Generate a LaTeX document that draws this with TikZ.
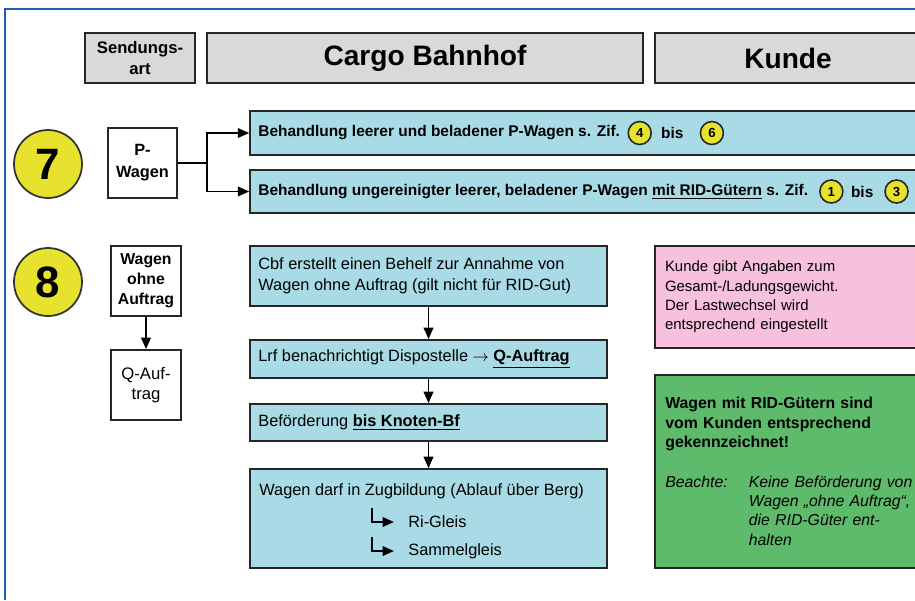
\documentclass[tikz,border=0pt]{standalone}
\usepackage{fontspec}
\setmainfont{Liberation Sans}
\usetikzlibrary{arrows.meta,positioning,calc}

\definecolor{hdrgray}{HTML}{D9D9D9}
\definecolor{cyanbox}{HTML}{A8DBE6}
\definecolor{pinkbox}{HTML}{F7C0DC}
\definecolor{greenbox}{HTML}{5DBB6B}
\definecolor{ziffgelb}{HTML}{E6E22E}
\definecolor{rahmenblau}{HTML}{1A5FB4}

\tikzset{
  box/.style={draw=black!85, line width=1pt, inner sep=0pt},
  hdr/.style={box, fill=hdrgray, font=\bfseries\fontsize{16}{18}\selectfont},
  artbox/.style={box, fill=white, align=center, minimum width=1.4cm, minimum height=1.4cm},
  bluebox/.style={box, fill=cyanbox},
  notebox/.style={box, inner xsep=0.2cm, text width=4.92cm, align=left, minimum width=5.32cm},
  bignum/.style={circle, draw=black!80, line width=1pt, fill=ziffgelb, minimum size=1.36cm,
    inner sep=0pt, font=\bfseries\fontsize{25}{25}\selectfont},
  zif/.style={circle, draw=black!85, line width=0.9pt, fill=ziffgelb, minimum size=0.46cm,
    inner sep=0pt, font=\bfseries\fontsize{7.5}{8}\selectfont},
  txt/.style={anchor=west, inner sep=0pt, font=\fontsize{9.3}{12}\selectfont},
  btxt/.style={anchor=west, inner sep=0pt, font=\bfseries\fontsize{8.8}{10}\selectfont},
  line/.style={line width=0.9pt},
  arr/.style={line, -{Triangle[length=6.5pt,width=5.5pt]}},
}

\begin{document}
\begin{tikzpicture}[x=0.02cm, y=-0.02cm]
  \useasboundingbox (0,0) rectangle (915,600);
  \clip (0,0) rectangle (915,600);
  \draw[rahmenblau, line width=1pt] (5,600) -- (5,9) -- (915,9);

  % Kopfzeile
  \node[hdr, minimum width=2.2cm, minimum height=1.0cm, align=center,
    font=\bfseries\fontsize{9.5}{11.5}\selectfont] (sa) at (140,58) {Sendungs-\\art};
  \node[hdr, minimum width=8.72cm, minimum height=1.0cm] (cb) at (425,58) {Cargo Bahnhof};
  \node[hdr, minimum width=5.32cm, minimum height=1.0cm] (ku) at (788,58) {Kunde};

  % Ziffer 7
  \node[bignum] (c7) at (48,164) {7};
  \node[artbox, minimum width=1.38cm, minimum height=1.4cm,
    font=\bfseries\fontsize{9.3}{12.5}\selectfont] (pw) at (142.5,163) {P-\\Wagen};
  \node[bluebox, minimum width=13.42cm, minimum height=0.88cm] (bx1) at (585.5,133) {};
  \node[bluebox, minimum width=13.42cm, minimum height=0.86cm] (bx2) at (585.5,191.5) {};

  \node[btxt] (t1) at (258,133) {Behandlung leerer und beladener P-Wagen s. Zif.};
  \node[zif, right=4pt of t1] (z4) {4};
  \node[btxt, right=5pt of z4] (bis1) {bis};
  \node[zif, right=9pt of bis1] (z6) {6};
  \node[btxt] (t2) at (258,191.5) {Behandlung ungereinigter leerer, beladener P-Wagen
    \underline{mit RID-Gütern} s. Zif.};
  \node[zif, right=6pt of t2] (z1) {1};
  \node[btxt, right=4pt of z1] (bis2) {bis};
  \node[zif, right=6pt of bis2] (z3) {3};

  \coordinate (br) at (207,163);
  \draw[line] (pw.east) -- (br);
  \draw[arr] (br) |- (bx1.west);
  \draw[arr] (br) |- (bx2.west);

  % Ziffer 8
  \node[bignum] (c8) at (48,282) {8};
  \node[artbox, font=\bfseries\fontsize{9}{11.5}\selectfont] (wo) at (146,281) {Wagen\\ohne\\Auftrag};
  \node[artbox, font=\fontsize{9.5}{11.5}\selectfont] (qa) at (146,385) {Q-Auf-\\trag};
  \draw[arr] (wo) -- (qa);

  \node[bluebox, minimum width=7.14cm, minimum height=1.2cm] (ba) at (428.5,276) {};
  \node[txt] (bat) at (258,276) {\begin{tabular}{@{}l@{}}Cbf erstellt einen Behelf zur Annahme von\\
    Wagen ohne Auftrag (gilt nicht für RID-Gut)\end{tabular}};
  \node[bluebox, minimum width=7.14cm, minimum height=0.76cm] (bb) at (428.5,359) {};
  \node[txt] (bbt) at (258,359) {Lrf benachrichtigt Dispostelle $\rightarrow$ \textbf{\underline{Q-Auftrag}}};
  \node[bluebox, minimum width=7.14cm, minimum height=0.74cm] (bc) at (428.5,422.5) {};
  \node[txt] (bct) at (258,422.5) {Beförderung \textbf{\underline{bis Knoten-Bf}}};
  \node[bluebox, minimum width=7.14cm, minimum height=1.98cm] (bd) at (428.5,518.5) {};
  \node[txt] (bdt) at (259,491) {Wagen darf in Zugbildung (Ablauf über Berg)};
  \node[txt] (ri) at (408,522) {Ri-Gleis};
  \node[txt] (sg) at (408,551) {Sammelgleis};
  \draw[arr] ([xshift=-20.5pt,yshift=8pt]ri.west) |- ([xshift=-8pt]ri.west);
  \draw[arr] ([xshift=-20.5pt,yshift=8pt]sg.west) |- ([xshift=-8pt]sg.west);

  \draw[arr] (ba) -- (bb);
  \draw[arr] (bb) -- (bc);
  \draw[arr] (bc) -- (bd);

  % Kunde
  \node[notebox, fill=pinkbox, minimum height=2.04cm, font=\fontsize{8.5}{11}\selectfont]
    (pk) at (788,297) {Kunde gibt Angaben zum\\Gesamt-/Ladungsgewicht.\\Der Lastwechsel wird\\
    entsprechend eingestellt};
  \node[notebox, fill=greenbox, minimum height=3.86cm] (gr) at (788,471.5) {};
  \node[anchor=north west, inner sep=0pt, text width=4.92cm, align=left,
    font=\fontsize{9}{11}\selectfont] (grt) at (665,397)
    {\textbf{Wagen mit RID-Gütern sind\\vom Kunden entsprechend\\gekennzeichnet!}\\[12pt]
    \begin{tabular}{@{}l@{\hspace{12pt}}l@{}}\itshape Beachte: & \itshape Keine Beförderung von\\
    & \itshape Wagen „ohne Auftrag“,\\ & \itshape die RID-Güter ent-\\ & \itshape halten\end{tabular}};
\end{tikzpicture}
\end{document}
